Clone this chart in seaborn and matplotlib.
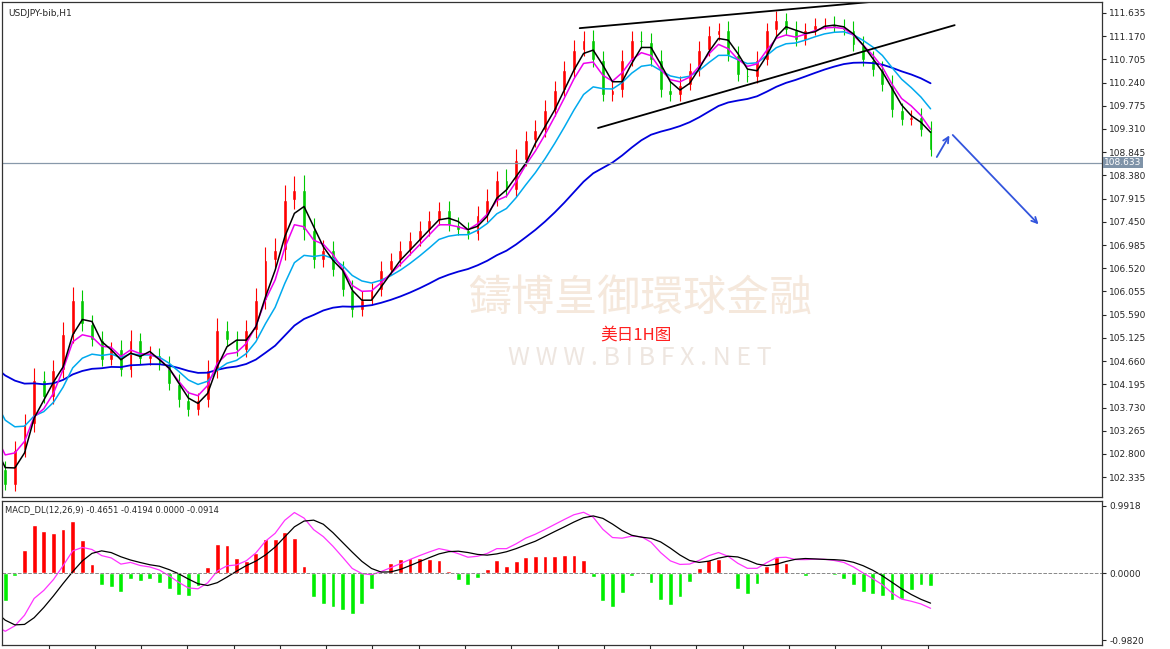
import numpy as np
import matplotlib.pyplot as plt
import seaborn as sns
import pandas as pd

# closes of a few bars before the visible window (seed the averages)
prior_closes = [105.6, 105.3, 105.0, 104.6, 104.0, 103.4, 102.9, 102.5]
# closing prices (one bar per ~10 px)
closes = [102.18, 102.88, 103.40, 104.28, 103.95, 104.48, 105.20, 105.88, 105.40, 105.08,
          104.68, 104.90, 104.48, 105.08, 104.70, 104.78, 104.58, 104.20, 103.88, 103.68,
          103.88, 104.48, 105.28, 105.08, 104.88, 105.28, 105.88, 106.68, 106.88, 107.89,
          108.09, 107.29, 106.68, 106.88, 106.48, 106.08, 105.68, 105.88, 106.08, 106.48,
          106.68, 106.88, 107.09, 107.29, 107.49, 107.69, 107.39, 107.29, 107.20, 107.59,
          107.89, 108.29, 108.09, 108.69, 109.09, 109.29, 109.69, 110.09, 110.49, 110.89,
          111.09, 110.69, 109.99, 110.09, 110.69, 111.09, 111.05, 110.69, 110.09, 109.99,
          110.19, 110.49, 110.89, 111.19, 111.29, 110.79, 110.39, 110.35, 110.69, 111.29,
          111.49, 111.29, 111.09, 111.29, 111.39, 111.42, 111.36, 111.29, 110.99, 110.69,
          110.49, 110.19, 109.69, 109.49, 109.55, 109.29, 108.89]
wicks = [0.25, 0.3, 0.35, 0.4, 0.3, 0.35, 0.4, 0.45, 0.35, 0.3,
         0.3, 0.25, 0.3, 0.35, 0.25, 0.3, 0.25, 0.3, 0.35, 0.3,
         0.25, 0.35, 0.4, 0.3, 0.3, 0.35, 0.4, 0.45, 0.4, 0.5,
         0.45, 0.5, 0.4, 0.35, 0.3, 0.3, 0.35, 0.3, 0.25, 0.3,
         0.25, 0.3, 0.25, 0.3, 0.3, 0.25, 0.3, 0.25, 0.25, 0.3,
         0.35, 0.3, 0.35, 0.35, 0.3, 0.35, 0.35, 0.3, 0.3, 0.35,
         0.3, 0.35, 0.3, 0.3, 0.35, 0.3, 0.3, 0.3, 0.35, 0.3,
         0.3, 0.25, 0.3, 0.3, 0.25, 0.3, 0.3, 0.25, 0.3, 0.25,
         0.3, 0.25, 0.3, 0.25, 0.25, 0.2, 0.25, 0.25, 0.3, 0.3,
         0.3, 0.3, 0.35, 0.25, 0.25, 0.3, 0.3]
last_price = 108.633
yticks = [111.635, 111.170, 110.705, 110.240, 109.775, 109.310, 108.845, 108.380, 107.915,
          107.450, 106.985, 106.520, 106.055, 105.590, 105.125, 104.660, 104.195, 103.730,
          103.265, 102.800, 102.335]
# trend lines and arrows (bar index, price)
upper_line = ([59.6, 89.8], [111.33, 111.855])
lower_line = ([61.5, 98.5], [109.33, 111.39])
arrow_up = ([96.5, 98.1], [108.70, 109.23])
arrow_down = ([98.1, 107.4], [109.23, 107.36])

sns.set_style("white")
plt.rcParams['font.family'] = ['Noto Sans CJK SC', 'DejaVu Sans']

allc = pd.Series(prior_closes + closes)
n0 = len(prior_closes)
full = pd.DataFrame({"close": allc, "x": np.arange(len(allc)) - n0})
full["ma5"] = full["close"].rolling(3, min_periods=1).mean()
full["ma10"] = full["close"].ewm(span=4, adjust=False).mean()
full["ma20"] = full["close"].ewm(span=8, adjust=False).mean()
full["ma60"] = pd.concat([pd.Series([105.0]), full["close"][1:]]).ewm(span=28, adjust=False).mean().values
ema12 = full["close"].ewm(span=6, adjust=False).mean()
ema26 = full["close"].ewm(span=13, adjust=False).mean()
full["macd"] = ema12 - ema26
full["signal"] = full["macd"].rolling(4, min_periods=1).mean()
full["hist"] = (full["macd"] - full["signal"]) * 2.5

df = full[full["x"] >= 0].reset_index(drop=True)
df["open"] = full["close"].shift(1)[n0:].values
df["high"] = df[["open", "close"]].max(axis=1) + np.array(wicks) * 0.6
df["low"] = df[["open", "close"]].min(axis=1) - np.array(wicks) * 0.4

fig = plt.figure(figsize=(11.7, 6.49), dpi=100)
ax = fig.add_axes([0.002, 0.234, 0.94, 0.763])
ax2 = fig.add_axes([0.002, 0.006, 0.94, 0.222])
xlim = (-0.3, 113.8)

up = df["close"] >= df["open"]
colors = np.where(up, "#ff0000", "#00c800")
ax.vlines(df["x"], df["low"], df["high"], colors=colors, lw=0.8)
ax.bar(df["x"], (df["close"] - df["open"]).abs().clip(lower=0.03),
       bottom=df[["open", "close"]].min(axis=1), color=colors, width=0.4)
sns.lineplot(data=full, x="x", y="ma60", ax=ax, color="#0000dd", lw=1.3)
sns.lineplot(data=full, x="x", y="ma20", ax=ax, color="#00aaee", lw=1.1)
sns.lineplot(data=full, x="x", y="ma10", ax=ax, color="#ee00ee", lw=1.1)
sns.lineplot(data=full, x="x", y="ma5", ax=ax, color="black", lw=1.1)
ax.plot(*upper_line, color="black", lw=1.3)
ax.plot(*lower_line, color="black", lw=1.3)
for seg in (arrow_up, arrow_down):
    ax.annotate("", xy=(seg[0][1], seg[1][1]), xytext=(seg[0][0], seg[1][0]),
                arrowprops=dict(arrowstyle="->", color="#3355dd", lw=1.3))
ax.axhline(last_price, color="#8899aa", lw=0.9)
ax.set_xlim(*xlim)
ax.set_ylim(101.935, 111.855)
ax.yaxis.tick_right()
ax.set_yticks(yticks)
ax.set_yticklabels([f"{v:.3f}" for v in yticks], fontsize=6.5, family="DejaVu Sans")
ax.tick_params(axis="y", length=3, pad=2, right=True)
ax.set_xticks([])
ax.set_xlabel("")
ax.set_ylabel("")
ax.text(1.002, last_price, f"{last_price:.3f}", transform=ax.get_yaxis_transform(),
        fontsize=6.5, color="white", va="center", family="DejaVu Sans",
        bbox=dict(boxstyle="square,pad=0.1", fc="#7f93a8", ec="none"))
ax.text(0.005, 0.985, "USDJPY-bib,H1", transform=ax.transAxes, fontsize=6.5, va="top",
        family="DejaVu Sans")
ax.text(0.58, 0.40, "鑄博皇御環球金融", transform=ax.transAxes, fontsize=31,
        color="#f5e8dc", ha="center", va="center", zorder=0)
ax.text(0.58, 0.28, "W W W . B I B F X . N E T", transform=ax.transAxes, fontsize=18,
        color="#eee6e0", ha="center", va="center", zorder=0)
ax.text(0.576, 0.328, "美日1H图", transform=ax.transAxes, fontsize=12, color="#ff2020",
        ha="center", va="center")

hcol = np.where(df["hist"] >= 0, "#ff0000", "#00ee00")
ax2.bar(df["x"], df["hist"], color=hcol, width=0.5)
sns.lineplot(data=full, x="x", y="macd", ax=ax2, color="#ff33ff", lw=0.9)
sns.lineplot(data=full, x="x", y="signal", ax=ax2, color="black", lw=0.9)
ax2.axhline(0, color="#888888", lw=0.7, ls="--")
ax2.set_xlim(*xlim)
ax2.set_ylim(-1.05, 1.06)
ax2.yaxis.tick_right()
ax2.set_yticks([0.9918, 0, -0.982])
ax2.set_yticklabels(["0.9918", "0.0000", "-0.9820"], fontsize=6.5, family="DejaVu Sans")
ax2.set_xticks(np.arange(4.5, 100, 4.8))
ax2.set_xticklabels([])
ax2.tick_params(axis="x", length=3, bottom=True)
ax2.tick_params(axis="y", length=3, pad=2, right=True)
ax2.set_xlabel("")
ax2.set_ylabel("")
ax2.text(0.002, 0.97, "MACD_DL(12,26,9) -0.4651 -0.4194 0.0000 -0.0914",
         transform=ax2.transAxes, fontsize=6, va="top", family="DejaVu Sans")
for a in (ax, ax2):
    for s in a.spines.values():
        s.set_color("#333333")
        s.set_linewidth(0.9)

fig.savefig("out.png", dpi=100)
